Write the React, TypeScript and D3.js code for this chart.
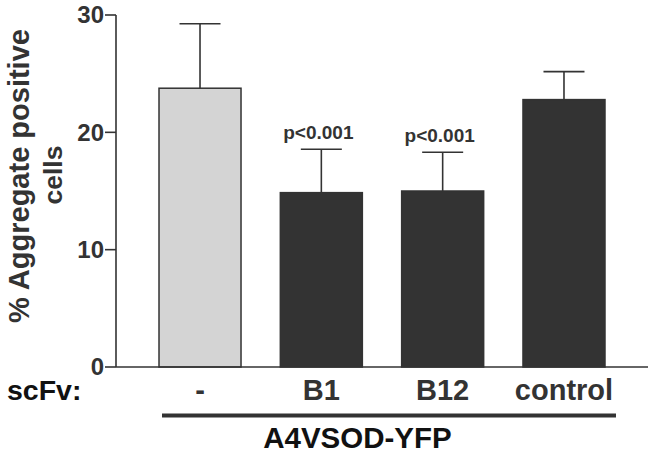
import React from 'react';
import * as d3 from 'd3';

const categories = ['-', 'B1', 'B12', 'control'];
const means = [23.76, 14.86, 15.0, 22.79];
const errors = [5.5, 3.7, 3.3, 2.38];
const pLabels = ['', 'p<0.001', 'p<0.001', ''];
const yTicks = [0, 10, 20, 30];

const W = 651;
const H = 455;
const FONT = '"Liberation Sans", Arial, sans-serif';

const App = () => {
  const y = d3.scaleLinear().domain([0, 30]).range([367, 15]);
  const x = d3.scaleBand<string>()
    .domain(categories)
    .range([118, 646])
    .paddingInner(0.324)
    .paddingOuter(0.338);
  const bw = x.bandwidth();
  const axisX = 116;

  return (
    <div style={{ position: 'fixed', left: 0, top: 0 }}>
      <svg width={W} height={H} style={{ display: 'block', background: '#fff' }}>
        {/* bars */}
        {categories.map((c, i) => (
          <rect key={c}
            x={x(c)!}
            y={y(means[i])}
            width={bw}
            height={y(0) - y(means[i])}
            fill={i === 0 ? '#d4d4d4' : '#333333'}
            stroke="#333"
            strokeWidth={1.5} />
        ))}
        {/* error bars */}
        {categories.map((c, i) => {
          const cx = x(c)! + bw / 2;
          const top = y(means[i] + errors[i]);
          return (
            <g key={'e' + c} stroke="#333" strokeWidth={1.6}>
              <line x1={cx} x2={cx} y1={y(means[i])} y2={top} />
              <line x1={cx - bw / 4} x2={cx + bw / 4} y1={top} y2={top} />
            </g>
          );
        })}
        {/* p values */}
        {categories.map((c, i) => pLabels[i] ? (
          <text key={'p' + c}
            x={x(c)! + bw / 2 - 3}
            y={y(means[i] + errors[i]) - 10}
            textAnchor="middle"
            fontFamily={FONT} fontWeight="bold" fontSize={19} fill="#333">
            {pLabels[i]}
          </text>
        ) : null)}
        {/* y axis */}
        <line x1={axisX} x2={axisX} y1={y(30)} y2={y(0)} stroke="#333" strokeWidth={1.6} />
        {yTicks.map(t => (
          <g key={t}>
            <line x1={axisX - 11} x2={axisX} y1={y(t)} y2={y(t)} stroke="#333" strokeWidth={1.6} />
            <text x={axisX - 12} y={y(t)} dy="0.35em" textAnchor="end"
              fontFamily={FONT} fontWeight="bold" fontSize={24} fill="#333">{t}</text>
          </g>
        ))}
        {/* x axis */}
        <line x1={axisX} x2={648} y1={y(0)} y2={y(0)} stroke="#333" strokeWidth={1.6} />
        {categories.map(c => (
          <text key={'c' + c} x={x(c)! + bw / 2} y={400}
            textAnchor="middle" fontFamily={FONT} fontWeight="bold" fontSize={29} fill="#333">
            {c}
          </text>
        ))}
        <text x={7} y={400} fontFamily={FONT} fontWeight="bold" fontSize={28.5} fill="#111">scFv:</text>
        <line x1={x(categories[0])! + 3} x2={x(categories[3])! + bw + 11}
          y1={415.5} y2={415.5} stroke="#333" strokeWidth={4} />
        <text x={357.5} y={448} textAnchor="middle" fontFamily={FONT} fontWeight="bold" fontSize={29.5} fill="#111">
          A4VSOD-YFP
        </text>
        {/* y label */}
        <g transform="translate(28.5,176) rotate(-90)">
          <text x={0} y={0} textAnchor="middle" fontFamily={FONT} fontWeight="bold" fontSize={29} fill="#333">
            % Aggregate positive
          </text>
        </g>
        <g transform="translate(61.5,175) rotate(-90)">
          <text x={0} y={0} textAnchor="middle" fontFamily={FONT} fontWeight="bold" fontSize={26.5} fill="#333">
            cells
          </text>
        </g>
      </svg>
    </div>
  );
};

export default App;
